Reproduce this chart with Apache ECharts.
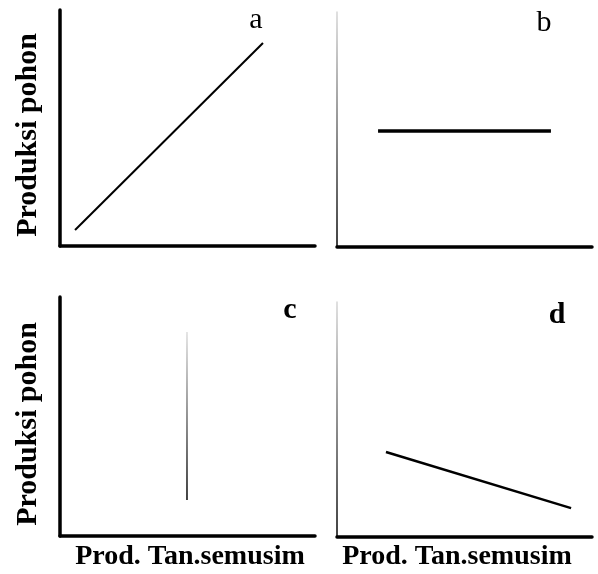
<!DOCTYPE html>
<html>
<head>
<meta charset="utf-8">
<script src="https://cdn.jsdelivr.net/npm/echarts@6/dist/echarts.min.js"></script>
<style>html,body{margin:0;padding:0;background:#fff;}#c{width:598px;height:574px;}</style>
</head>
<body>
<div id="c"></div>
<script>
// ---- data (values on 0-100 scale of each panel's axes) ----
const panelLabels = ['a', 'b', 'c', 'd'];
const lineA = [[5.9, 6.8], [79.6, 86.0]];
const lineB = [[16.1, 49.4], [83.9, 49.4]];
const lineC = [[49.8, 15.1], [49.8, 85.4]];
const lineD = [[19.2, 36.2], [91.8, 12.3]];
const yAxisTitle = 'Produksi pohon';
const xAxisTitle = 'Prod. Tan.semusim';

const SERIF = '"Liberation Serif", "Times New Roman", serif';
const chart = echarts.init(document.getElementById('c'), null, {renderer: 'canvas'});

const grids = [
  {left: 60, top: 10, width: 255, height: 236},
  {left: 337, top: 12, width: 255, height: 235},
  {left: 60, top: 297, width: 255, height: 239},
  {left: 337, top: 302, width: 255, height: 235}
];

const thinGrad = {
  type: 'linear', x: 0, y: 0, x2: 0, y2: 1,
  colorStops: [{offset: 0, color: '#d8d8d8'}, {offset: 1, color: '#000'}]
};

function xAx(i) {
  return {
    type: 'value', gridIndex: i, min: 0, max: 100,
    axisLine: {onZero: false, lineStyle: {color: '#000', width: 3.5}},
    axisTick: {show: false}, axisLabel: {show: false}, splitLine: {show: false}
  };
}
function yAx(i, thin) {
  return {
    type: 'value', gridIndex: i, min: 0, max: 100,
    axisLine: {onZero: false, lineStyle: thin ? {color: thinGrad, width: 1.5} : {color: '#000', width: 3.5}},
    axisTick: {show: false}, axisLabel: {show: false}, splitLine: {show: false}
  };
}
function ser(i, data, width, color) {
  return {
    type: 'line', xAxisIndex: i, yAxisIndex: i, data: data,
    symbol: 'none', silent: true, animation: false,
    lineStyle: {color: color || '#000', width: width}
  };
}

const letterPos = [[256, 20, 'normal'], [544, 23, 'normal'], [290, 310, 'bold'], [557, 315, 'bold']];

const graphics = [];
panelLabels.forEach((t, k) => {
  graphics.push({
    type: 'text', x: letterPos[k][0], y: letterPos[k][1],
    style: {text: t, font: letterPos[k][2] + ' 30px ' + SERIF, fill: '#000', textAlign: 'center', textVerticalAlign: 'middle'}
  });
});
[[28, 135], [28, 424]].forEach(p => {
  graphics.push({
    type: 'text', x: p[0], y: p[1], rotation: Math.PI / 2,
    style: {text: yAxisTitle, font: 'bold 30px ' + SERIF, fill: '#000', textAlign: 'center', textVerticalAlign: 'middle'}
  });
});
[[190, 557], [457, 557]].forEach(p => {
  graphics.push({
    type: 'text', x: p[0], y: p[1],
    style: {text: xAxisTitle, font: 'bold 28px ' + SERIF, fill: '#000', textAlign: 'center', textVerticalAlign: 'middle'}
  });
});

chart.setOption({
  animation: false,
  backgroundColor: '#fff',
  grid: grids,
  xAxis: [xAx(0), xAx(1), xAx(2), xAx(3)],
  yAxis: [yAx(0, false), yAx(1, true), yAx(2, false), yAx(3, true)],
  series: [
    ser(0, lineA, 2),
    ser(1, lineB, 3.5),
    ser(2, lineC, 1.5, {type: 'linear', x: 0, y: 0, x2: 0, y2: 1,
      colorStops: [{offset: 0, color: '#e0e0e0'}, {offset: 1, color: '#000'}]}),
    ser(3, lineD, 2.5)
  ],
  graphic: graphics
});
</script>
</body>
</html>
